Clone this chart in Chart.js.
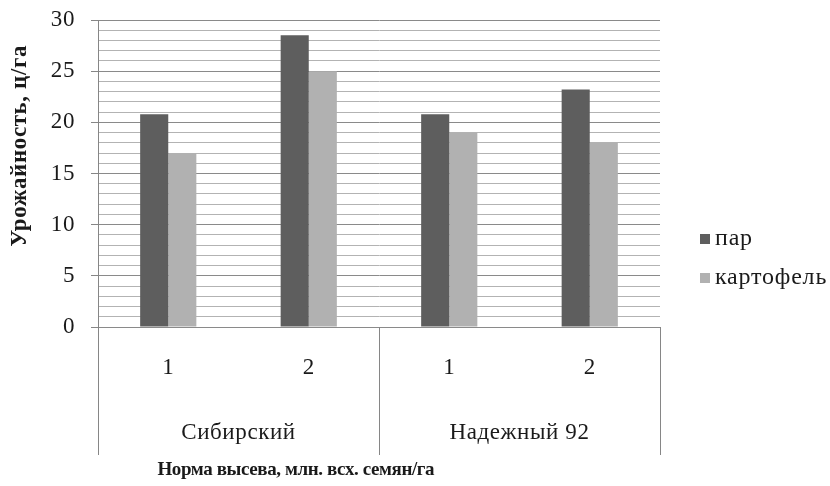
<!DOCTYPE html>
<html>
<head>
<meta charset="utf-8">
<script src="https://cdn.jsdelivr.net/npm/chart.js@4/dist/chart.umd.min.js"></script>
<style>
  html, body { margin: 0; padding: 0; background: #ffffff; }
  #wrap { width: 830px; height: 486px; position: relative; }
</style>
</head>
<body>
<div id="wrap"><canvas id="chart" width="830" height="486"></canvas></div>
<script>
// Seeding rate within each variety
const categories = ['1', '2', '1', '2'];
// Variety groups, each spanning two seeding rates
const groups = ['Сибирский', 'Надежный 92'];
const groupSize = 2;
// Yield, c/ha, by predecessor
const seriesNames = ['пар', 'картофель'];
const parValues = [20.8, 28.5, 20.8, 23.2];
const potatoValues = [17.0, 25.0, 19.0, 18.0];
// Value axis
const yMin = 0;
const yMax = 30;
const yMinorStep = 1;
const yMajorStep = 5;

const yTitle = 'Урожайность, ц/га';
const xTitle = 'Норма высева, млн. всх. семян/га';

const FONT = '"Liberation Serif", "Times New Roman", serif';
const TEXT = '#1a1a1a';
const AXIS = '#868686';
const colors = ['#5e5e5e', '#b1b1b1'];

const isMajor = v => Math.abs(v % yMajorStep) < 1e-9;

// Slightly open tracking for all chart text
const tracking = {
  id: 'tracking',
  beforeDraw(chart) { chart.ctx.letterSpacing = '0.6px'; }
};

// Grouped category boxes, axis titles and legend
const decorations = {
  id: 'decorations',
  afterDraw(chart) {
    const ctx = chart.ctx;
    const area = chart.chartArea;
    const xs = chart.scales.x;
    const n = categories.length;
    const step = (area.right - area.left) / n;
    ctx.save();
    // separators between variety groups
    ctx.strokeStyle = AXIS;
    ctx.lineWidth = 1;
    for (let g = 0; g <= groups.length; g++) {
      const idx = g * groupSize;
      const px = Math.round(idx < n ? xs.getPixelForTick(idx) - step / 2 : area.right) + 0.5;
      ctx.beginPath();
      ctx.moveTo(px, area.bottom);
      ctx.lineTo(px, xs.bottom);
      ctx.stroke();
    }
    // variety labels
    ctx.fillStyle = TEXT;
    ctx.font = '23px ' + FONT;
    ctx.textAlign = 'center';
    ctx.textBaseline = 'middle';
    groups.forEach((name, g) => {
      const a = xs.getPixelForTick(g * groupSize);
      const b = xs.getPixelForTick(g * groupSize + groupSize - 1);
      ctx.fillText(name, (a + b) / 2, xs.bottom - 22);
    });
    // x title
    ctx.save();
    ctx.letterSpacing = '-0.4px';
    ctx.font = 'bold 19px ' + FONT;
    ctx.fillText(xTitle, area.left + (area.right - area.left) * 0.352, xs.bottom + 15);
    ctx.restore();
    // y title
    ctx.save();
    ctx.font = 'bold 23px ' + FONT;
    ctx.translate(20, area.top + (area.bottom - area.top) * 0.41);
    ctx.rotate(-Math.PI / 2);
    ctx.fillText(yTitle, 0, 0);
    ctx.restore();
    // legend
    ctx.save();
    ctx.letterSpacing = '0.8px';
    ctx.font = '24px ' + FONT;
    ctx.textAlign = 'left';
    chart.data.datasets.forEach((ds, i) => {
      const cy = area.top + 219 + i * 39;
      ctx.fillStyle = ds.backgroundColor;
      ctx.fillRect(area.right + 40, cy - 5, 10, 10);
      ctx.fillStyle = TEXT;
      ctx.fillText(ds.label, area.right + 55, cy);
    });
    ctx.restore();
    ctx.restore();
  }
};

new Chart(document.getElementById('chart'), {
  type: 'bar',
  data: {
    labels: categories,
    datasets: [
      { label: seriesNames[0], data: parValues, backgroundColor: colors[0] },
      { label: seriesNames[1], data: potatoValues, backgroundColor: colors[1] }
    ]
  },
  options: {
    responsive: false,
    animation: false,
    devicePixelRatio: 1,
    layout: { padding: { left: 0, top: 20, right: 170, bottom: 31 } },
    datasets: {
      bar: { categoryPercentage: 0.4, barPercentage: 1.0, borderWidth: 0 }
    },
    plugins: {
      legend: { display: false },
      tooltip: { enabled: false }
    },
    scales: {
      x: {
        offset: true,
        grid: { display: false },
        border: { display: false },
        ticks: {
          color: TEXT,
          font: { family: FONT, size: 23 },
          padding: 19,
          maxRotation: 0
        },
        afterFit(scale) {
          scale.height = 128;
          scale.paddingLeft = 0;
          scale.paddingRight = 0;
        }
      },
      y: {
        min: yMin,
        max: yMax,
        border: { display: true, color: AXIS, width: 1 },
        grid: {
          color: c => (isMajor(c.tick.value) ? '#8a8a8a' : '#b3b3b3'),
          tickColor: c => (isMajor(c.tick.value) ? AXIS : 'rgba(0,0,0,0)'),
          tickLength: 7,
          lineWidth: 1
        },
        ticks: {
          stepSize: yMinorStep,
          autoSkip: false,
          color: TEXT,
          font: { family: FONT, size: 23 },
          padding: 16,
          callback: v => (isMajor(v) ? String(v) : '')
        },
        afterFit(scale) {
          scale.width = 98;
          scale.paddingTop = 0;
          scale.paddingBottom = 0;
        }
      }
    }
  },
  plugins: [tracking, decorations]
});
</script>
</body>
</html>
